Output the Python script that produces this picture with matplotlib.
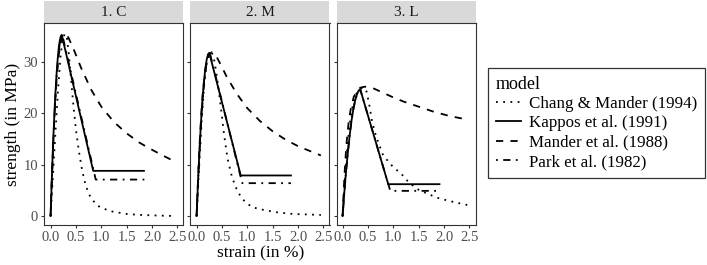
import matplotlib
matplotlib.use("Agg")
import matplotlib.pyplot as plt
from matplotlib.patches import Rectangle
from matplotlib.lines import Line2D

plt.rcParams['font.family'] = ['Liberation Serif', 'DejaVu Serif']

panels = ['1. C', '2. M', '3. L']
models = ['Chang & Mander (1994)', 'Kappos et al. (1991)',
          'Mander et al. (1988)', 'Park et al. (1982)']
styles = [(0, (1, 3)), '-', (0, (4, 4)), (0, (1, 3, 4, 3))]

# ---- panel 1. C ----
c_chang_x = [0, 0.05, 0.1, 0.15, 0.2, 0.24, 0.28, 0.32, 0.36, 0.4, 0.45, 0.5, 0.56,
             0.62, 0.69, 0.78, 0.9, 1.0, 1.2, 1.5, 1.8, 2.1, 2.45]
c_chang_y = [0, 8.5, 17.0, 25.0, 31.5, 34.5, 35.5, 34.8, 31.5, 27.0, 21.5, 16.8, 12.5,
             9.0, 6.0, 3.8, 2.2, 1.6, 0.9, 0.4, 0.2, 0.1, 0.0]
c_kappos_x = [0, 0.02, 0.04, 0.06, 0.08, 0.10, 0.12, 0.14, 0.16, 0.18, 0.20, 0.22, 0.84, 1.84]
c_kappos_y = [0, 6.1, 11.7, 16.6, 21.0, 24.8, 28.0, 30.6, 32.7, 34.1, 35.0, 35.3, 8.8, 8.8]
c_mander_x = [0, 0.03, 0.06, 0.09, 0.12, 0.16, 0.2, 0.24, 0.28, 0.35, 0.45, 0.6, 0.8,
              1.0, 1.25, 1.5, 1.75, 2.0, 2.25, 2.45]
c_mander_y = [0, 8.4, 15.9, 22.1, 26.9, 31.3, 33.9, 35.2, 35.5, 34.8, 32.6, 28.9, 24.6,
              21.3, 18.3, 16.1, 14.3, 12.9, 11.6, 10.6]
c_park_x = [0, 0.03, 0.06, 0.09, 0.12, 0.15, 0.18, 0.21, 0.23, 0.89, 1.87]
c_park_y = [0, 8.6, 16.0, 22.2, 27.3, 31.0, 33.6, 35.0, 35.3, 7.1, 7.1]

# ---- panel 2. M ----
m_chang_x = [0, 0.05, 0.1, 0.15, 0.2, 0.25, 0.29, 0.33, 0.38, 0.43, 0.48, 0.54, 0.61,
             0.7, 0.81, 0.95, 1.1, 1.36, 1.6, 1.9, 2.2, 2.45]
m_chang_y = [0, 9.5, 18.5, 25.5, 29.8, 31.5, 31.9, 31.3, 28.5, 25.0, 21.0, 16.0, 11.2,
             7.5, 4.7, 2.8, 1.7, 1.1, 0.7, 0.4, 0.3, 0.2]
m_kappos_x = [0, 0.025, 0.05, 0.075, 0.1, 0.125, 0.15, 0.175, 0.2, 0.225, 0.25, 0.87, 1.86]
m_kappos_y = [0, 6.0, 11.4, 16.2, 20.4, 23.9, 26.7, 28.9, 30.5, 31.5, 31.8, 7.9, 7.9]
m_mander_x = [0, 0.03, 0.06, 0.09, 0.12, 0.16, 0.2, 0.25, 0.3, 0.38, 0.48, 0.6, 0.8,
              1.0, 1.25, 1.5, 1.75, 2.0, 2.25, 2.45]
m_mander_y = [0, 7.4, 14.0, 19.5, 23.7, 27.6, 30.0, 31.5, 31.9, 31.3, 29.4, 27.0, 23.7,
              21.0, 18.5, 16.5, 14.9, 13.6, 12.6, 11.8]
m_park_x = [0, 0.03, 0.06, 0.09, 0.12, 0.15, 0.18, 0.21, 0.24, 0.26, 0.90, 1.86]
m_park_y = [0, 6.9, 13.0, 18.2, 22.6, 26.1, 28.8, 30.6, 31.6, 31.8, 6.4, 6.4]

# ---- panel 3. L ----
l_chang_x = [0, 0.05, 0.1, 0.15, 0.2, 0.27, 0.35, 0.42, 0.47, 0.52, 0.58, 0.66, 0.8,
             1.0, 1.15, 1.3, 1.46, 1.66, 1.85, 2.0, 2.2, 2.48]
l_chang_y = [0, 8.0, 14.0, 18.5, 21.5, 23.8, 24.8, 25.0, 24.3, 22.0, 18.5, 15.5, 11.8,
             9.5, 8.3, 6.6, 5.3, 4.4, 3.6, 3.2, 2.7, 2.1]
l_kappos_x = [0, 0.035, 0.07, 0.105, 0.14, 0.175, 0.21, 0.245, 0.28, 0.315, 0.35, 0.90, 1.91]
l_kappos_y = [0, 4.7, 8.9, 12.5, 15.7, 18.5, 20.7, 22.4, 23.6, 24.4, 24.6, 6.2, 6.2]
l_mander_x = [0, 0.02, 0.05, 0.08, 0.12, 0.16, 0.22, 0.28, 0.35, 0.44, 0.6, 0.8, 1.0,
              1.2, 1.5, 1.8, 2.1, 2.45]
l_mander_y = [0, 4.6, 10.2, 14.4, 18.3, 20.8, 23.2, 24.3, 25.0, 25.2, 24.9, 24.0, 23.1,
              22.3, 21.3, 20.3, 19.5, 18.8]
l_park_x = [0, 0.035, 0.07, 0.105, 0.14, 0.175, 0.21, 0.245, 0.28, 0.315, 0.35, 0.94, 1.87]
l_park_y = [0, 4.7, 8.9, 12.5, 15.7, 18.5, 20.7, 22.4, 23.6, 24.4, 24.6, 4.9, 4.9]

data = [
    [(c_chang_x, c_chang_y), (c_kappos_x, c_kappos_y), (c_mander_x, c_mander_y), (c_park_x, c_park_y)],
    [(m_chang_x, m_chang_y), (m_kappos_x, m_kappos_y), (m_mander_x, m_mander_y), (m_park_x, m_park_y)],
    [(l_chang_x, l_chang_y), (l_kappos_x, l_kappos_y), (l_mander_x, l_mander_y), (l_park_x, l_park_y)],
]

x_ticks = [0.0, 0.5, 1.0, 1.5, 2.0, 2.5]
y_ticks = [0, 10, 20, 30]

W, H = 707, 265
fig = plt.figure(figsize=(W / 100, H / 100), dpi=100)

lefts = [44.5, 190.5, 336.5]
pw = 139.0
top, bottom = 23.0, 225.0
strip_h = 22.0
grey = '#333333'

for i, name in enumerate(panels):
    ax = fig.add_axes([lefts[i] / W, (H - bottom) / H, pw / W, (bottom - top) / H])
    for (xs, ys), ls in zip(data[i], styles):
        ax.plot(xs, ys, color='black', lw=1.3, linestyle=ls)
    ax.set_xlim(-0.12, 2.62)
    ax.set_ylim(-1.75, 37.6)
    ax.set_xticks(x_ticks)
    ax.set_xticklabels(['%.1f' % t for t in x_ticks])
    ax.set_yticks(y_ticks)
    if i > 0:
        ax.set_yticklabels([])
        ax.tick_params(axis='y', length=0)
    for s in ax.spines.values():
        s.set_color(grey)
        s.set_linewidth(0.8)
    ax.tick_params(direction='out', length=2.5, width=0.8, color=grey,
                   labelcolor='#4D4D4D', labelsize=10.5, pad=2)
    # facet strip
    sh = strip_h / (bottom - top)
    ax.add_patch(Rectangle((0, 1), 1, sh, transform=ax.transAxes,
                           facecolor='#D9D9D9', edgecolor='none', clip_on=False))
    ax.text(0.5, 1 + sh / 2, name, transform=ax.transAxes, ha='center', va='center',
            fontsize=11, color='#1A1A1A')

fig.text(260.5 / W, 1 - 253 / H, 'strain (in %)', ha='center', va='center', fontsize=12.5)
fig.text(13 / W, 1 - 124 / H, 'strength (in MPa)', ha='center', va='center',
         rotation=90, fontsize=12.5)

handles = [Line2D([], [], color='black', lw=1.3, linestyle=ls) for ls in styles]
leg = fig.legend(handles, models, title='model', loc='upper left',
                 bbox_to_anchor=(488 / W, 1 - 68 / H), borderaxespad=0,
                 fontsize=12.2, title_fontsize=13, handlelength=1.5,
                 handletextpad=0.45, labelspacing=0.2, borderpad=0.45,
                 fancybox=False, edgecolor=grey, framealpha=1)
leg._legend_box.align = 'left'
leg.get_frame().set_linewidth(0.9)

fig.savefig('out.png', dpi=100)
